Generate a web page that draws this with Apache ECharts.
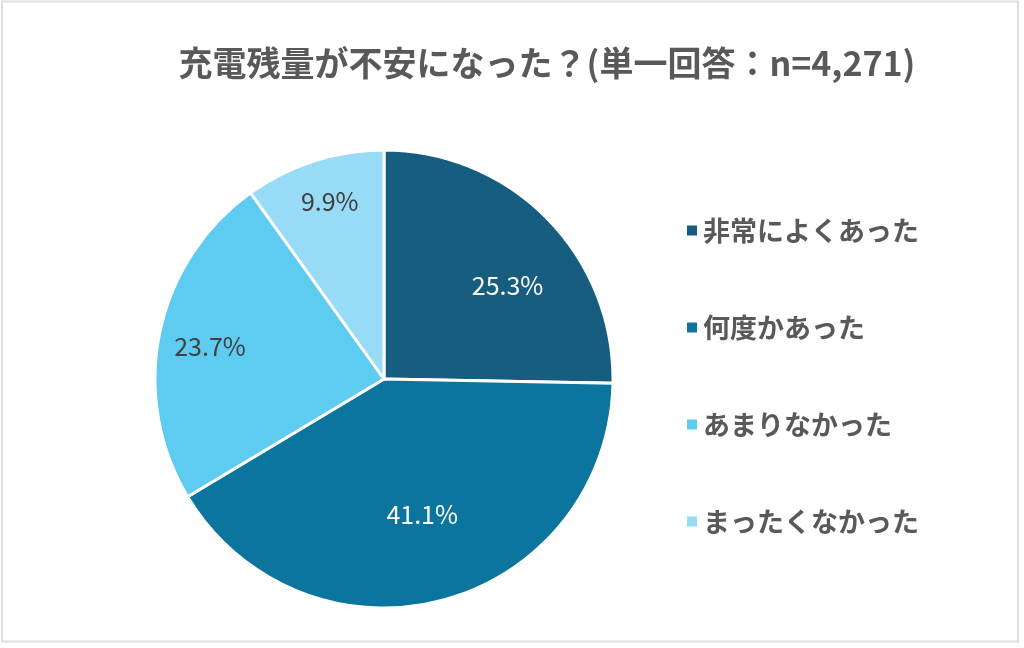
<!DOCTYPE html>
<html>
<head>
<meta charset="utf-8">
<script src="https://cdn.jsdelivr.net/npm/echarts@6/dist/echarts.min.js"></script>
<style>
  html, body { margin: 0; padding: 0; background: #fff; }
  #main { width: 1024px; height: 648px; }
</style>
</head>
<body>
<div id="main"></div>
<script>
// 回答カテゴリと割合（%）
var categories = ['非常によくあった', '何度かあった', 'あまりなかった', 'まったくなかった'];
var shares = [25.3, 41.1, 23.7, 9.9];
var titleText = '充電残量が不安になった？(単一回答：n=4,271)';

// 見た目
var sliceColors = ['#165d80', '#0c759e', '#5ecbf1', '#97dbf6'];
var labelColors = ['#ffffff', '#ffffff', '#404040', '#404040'];
var labelNudge = [[4, 24], [-5, -26], [-10, 1], [-3, -18]];
var font = '"Noto Sans CJK JP", "Noto Sans", sans-serif';

var pieData = categories.map(function (name, i) {
  return { name: name, value: shares[i], itemStyle: { color: sliceColors[i] } };
});
// ラベル専用（透明）
var labelData = categories.map(function (name, i) {
  return {
    name: name,
    value: shares[i],
    label: { color: labelColors[i], offset: labelNudge[i] }
  };
});

var myChart = echarts.init(document.getElementById('main'));
myChart.setOption({
  backgroundColor: '#ffffff',
  animation: false,
  title: {
    text: titleText,
    left: 542,
    top: 41,
    textAlign: 'center',
    textStyle: { fontFamily: font, fontSize: 34, fontWeight: 'bold', color: '#595959' }
  },
  legend: {
    orient: 'vertical',
    left: 680,
    top: 212,
    icon: 'rect',
    itemWidth: 12,
    itemHeight: 12,
    itemGap: 70,
    data: categories,
    textStyle: { fontFamily: font, fontSize: 27, fontWeight: 'bold', color: '#595959', lineHeight: 26 }
  },
  graphic: [{
    type: 'rect',
    silent: true,
    shape: { x: 2, y: 1.5, width: 1016, height: 640 },
    style: { fill: 'none', stroke: '#dedede', lineWidth: 2 }
  }],
  series: [
    {
      name: 'main',
      type: 'pie',
      center: [384, 379],
      radius: 229,
      startAngle: 90,
      clockwise: true,
      label: { show: false },
      labelLine: { show: false },
      itemStyle: { borderColor: '#ffffff', borderWidth: 3 },
      emphasis: { disabled: true },
      data: pieData
    },
    {
      name: 'labels',
      type: 'pie',
      center: [384, 379],
      radius: [100, 229],
      startAngle: 90,
      clockwise: true,
      silent: true,
      itemStyle: { color: 'rgba(0,0,0,0)', borderWidth: 0 },
      label: {
        show: true,
        position: 'inside',
        formatter: function (p) { return p.value.toFixed(1) + '%'; },
        fontFamily: font,
        fontSize: 25
      },
      labelLine: { show: false },
      emphasis: { disabled: true },
      data: labelData
    }
  ]
});
</script>
</body>
</html>
